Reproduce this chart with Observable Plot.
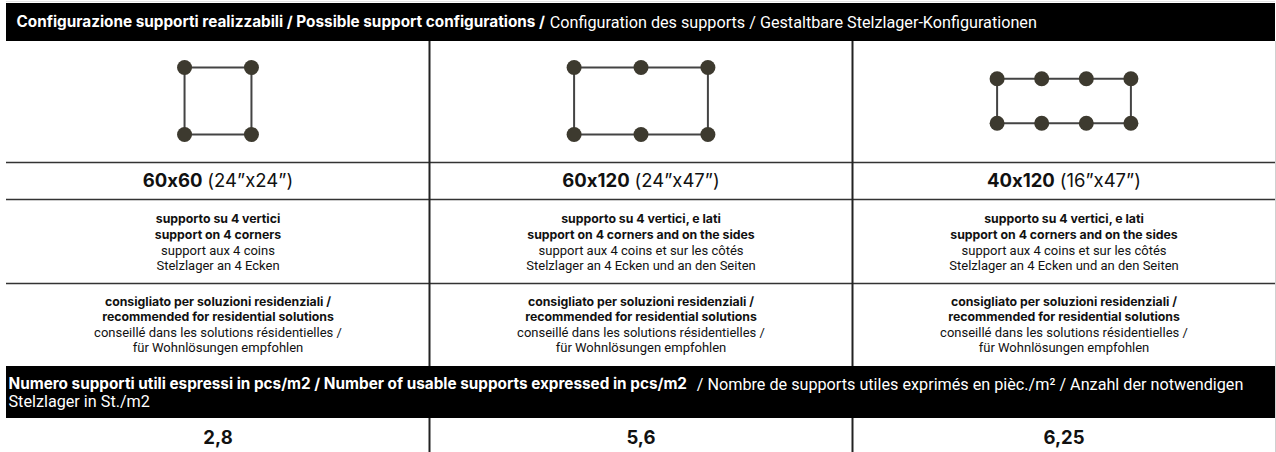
<!DOCTYPE html>
<html>
<head>
<meta charset="utf-8">
<script src="https://cdn.jsdelivr.net/npm/d3@7"></script>
<script src="https://cdn.jsdelivr.net/npm/@observablehq/plot@0.6"></script>
<style>
  html, body { margin: 0; padding: 0; background: #fff; }
  #chart svg { display: block; }
  svg text { font-feature-settings: "calt" 0; }
</style>
</head>
<body>
<div id="chart"></div>
<script>
// ---------- DATA ----------
const configs = ["60x60", "60x120", "40x120"];
const sizesInch = ["(24”x24”)", "(24”x47”)", "(16”x47”)"];
const panelWidthCm = [60, 120, 120];
const panelHeightCm = [60, 60, 40];
const supportsPerLongSide = [2, 3, 4];
const descIt = ["supporto su 4 vertici", "supporto su 4 vertici, e lati", "supporto su 4 vertici, e lati"];
const descEn = ["support on 4 corners", "support on 4 corners and on the sides", "support on 4 corners and on the sides"];
const descFr = ["support aux 4 coins", "support aux 4 coins et sur les côtés", "support aux 4 coins et sur les côtés"];
const descDe = ["Stelzlager an 4 Ecken", "Stelzlager an 4 Ecken und an den Seiten", "Stelzlager an 4 Ecken und an den Seiten"];
const recIt = ["consigliato per soluzioni residenziali /", "consigliato per soluzioni residenziali /", "consigliato per soluzioni residenziali /"];
const recEn = ["recommended for residential solutions", "recommended for residential solutions", "recommended for residential solutions"];
const recFr = ["conseillé dans les solutions résidentielles /", "conseillé dans les solutions résidentielles /", "conseillé dans les solutions résidentielles /"];
const recDe = ["für Wohnlösungen empfohlen", "für Wohnlösungen empfohlen", "für Wohnlösungen empfohlen"];
const supportsPerM2 = [2.8, 5.6, 6.25];
const headerBold = "Configurazione supporti realizzabili / Possible support configurations /";
const headerRegular = "Configuration des supports / Gestaltbare Stelzlager-Konfigurationen";
const footerBold = "Numero supporti utili espressi in pcs/m2 / Number of usable supports expressed in pcs/m2";
const footerRegular1 = "/ Nombre de supports utiles exprimés en pièc./m² / Anzahl der notwendigen";
const footerRegular2 = "Stelzlager in St./m2";

// ---------- LAYOUT (px) ----------
const W = 1276, H = 452;
const L = {
  header: [3, 41], headerY: 22,
  diagY: 100.5, pxPerCm: 1.115,
  rules: [162, 199, 283],
  sizeY: 181,
  descY: [219, 234.5, 250, 265.5],
  recY: [302, 317, 332, 347],
  band: [366, 418], bandY: [384, 401],
  valueY: 438,
  left: 6, right: 1275
};
const colPx = (L.right - L.left) / 3;
const cmPerCol = colPx / L.pxPerCm;

const BOLD = "Inter, sans-serif";
const REG = "Roboto, sans-serif";
const FS = {bandBold: 15.3, bandReg: 16.2, size: 18.5, textBold: 12.3, textReg: 13, value: 18.5};

// text measurement with a hidden svg (same rendering as the chart)
const NS = "http://www.w3.org/2000/svg";
const msvg = document.createElementNS(NS, "svg");
msvg.setAttribute("style", "position:absolute;left:-9999px;top:0;");
document.body.appendChild(msvg);
function tw(text, weight, size, family) {
  const t = document.createElementNS(NS, "text");
  t.setAttribute("font-family", family); t.setAttribute("font-weight", weight); t.setAttribute("font-size", size);
  t.setAttribute("xml:space", "preserve");
  t.textContent = text; msvg.appendChild(t);
  const w = t.getComputedTextLength(); msvg.removeChild(t); return w;
}

// support points & outlines built from the panel data
const supports = [];
const outlines = [];
configs.forEach((c, i) => {
  const w = panelWidthCm[i], h = panelHeightCm[i], n = supportsPerLongSide[i];
  for (const sy of [-h / 2, h / 2]) {
    for (let k = 0; k < n; k++) supports.push({col: i, cx: -w / 2 + (w * k) / (n - 1), cy: sy});
  }
  [[-w/2, -h/2], [w/2, -h/2], [w/2, h/2], [-w/2, h/2], [-w/2, -h/2]].forEach(([cx, cy]) => outlines.push({col: i, cx, cy}));
});
const px = d => d.col + 0.5 + d.cx / cmPerCol;
const py = d => L.diagY + d.cy * L.pxPerCm;

const cols = configs.map((c, i) => i);
const sizeGap = FS.size * 0.26;
const sizeParts = cols.map(i => {
  const b = tw(configs[i], 700, FS.size, BOLD), r = tw(sizesInch[i], 400, FS.size, BOLD);
  return {col: i, bw: b, total: b + sizeGap + r};
});

const descLines = [
  {arr: descIt, bold: true}, {arr: descEn, bold: true}, {arr: descFr, bold: false}, {arr: descDe, bold: false}
];
const recLines = [
  {arr: recIt, bold: true}, {arr: recEn, bold: true}, {arr: recFr, bold: false}, {arr: recDe, bold: false}
];
function linesMarks(lines, ys) {
  return lines.map((ln, j) => Plot.text(cols, {
    x: i => i + 0.5, y: () => ys[j], text: i => ln.arr[i],
    fontFamily: ln.bold ? BOLD : REG, fontWeight: ln.bold ? 700 : 400,
    fontSize: ln.bold ? FS.textBold : FS.textReg, fill: "#111"
  }));
}

const headerBoldW = tw(headerBold, 700, FS.bandBold, BOLD);
const footerBoldW = tw(footerBold, 700, FS.bandBold, BOLD);
const gapBand = FS.bandReg * 0.3;

const chart = Plot.plot({
  width: W, height: H, margin: 0,
  x: {domain: [0, 3], range: [L.left, L.right], axis: null},
  y: {domain: [0, H], range: [0, H], axis: null},
  style: {background: "#fff"},
  marks: [
    // bands
    Plot.ruleY([1], {x1: 0, x2: 3, stroke: "#e2e2e2", strokeWidth: 1}),
    Plot.rect([0], {x1: 0, x2: 3, y1: L.header[0], y2: L.header[1], fill: "#000"}),
    Plot.rect([0], {x1: 0, x2: 3, y1: L.band[0], y2: L.band[1], fill: "#000"}),
    // grid
    Plot.ruleY(L.rules, {x1: 0, x2: 3, stroke: "#333", strokeWidth: 1.5}),
    Plot.ruleX([1, 2], {y1: L.header[1], y2: L.band[0], stroke: "#222", strokeWidth: 2}),
    Plot.ruleX([1, 2], {y1: L.band[1], y2: H, stroke: "#222", strokeWidth: 2}),
    Plot.ruleX([3], {y1: L.header[1], y2: H, stroke: "#d0d0d0", strokeWidth: 1}),
    // diagrams
    Plot.line(outlines, {x: px, y: py, z: "col", stroke: "#444", strokeWidth: 2}),
    Plot.dot(supports, {x: px, y: py, r: 7.5, fill: "#3d3a2f", stroke: "none"}),
    // header text
    Plot.text([headerBold], {x: 0, y: () => L.headerY, text: d => d, textAnchor: "start", dx: 10, fill: "#fff",
      fontFamily: BOLD, fontWeight: 700, fontSize: FS.bandBold}),
    Plot.text([headerRegular], {x: 0, y: () => L.headerY, text: d => d, textAnchor: "start", dx: 10 + headerBoldW + gapBand, fill: "#fff",
      fontFamily: REG, fontWeight: 400, fontSize: FS.bandReg}),
    // size labels
    ...sizeParts.map(p => Plot.text([p], {x: d => d.col + 0.5, y: () => L.sizeY, text: d => configs[d.col], textAnchor: "start",
      dx: -p.total / 2, fontFamily: BOLD, fontWeight: 700, fontSize: FS.size, fill: "#111"})),
    ...sizeParts.map(p => Plot.text([p], {x: d => d.col + 0.5, y: () => L.sizeY, text: d => sizesInch[d.col], textAnchor: "start",
      dx: -p.total / 2 + p.bw + sizeGap, fontFamily: BOLD, fontWeight: 400, fontSize: FS.size, fill: "#111"})),
    // descriptions
    ...linesMarks(descLines, L.descY),
    ...linesMarks(recLines, L.recY),
    // footer band text
    Plot.text([footerBold], {x: 0, y: () => L.bandY[0], text: d => d, textAnchor: "start", dx: 2, fill: "#fff",
      fontFamily: BOLD, fontWeight: 700, fontSize: FS.bandBold}),
    Plot.text([footerRegular1], {x: 0, y: () => L.bandY[0], text: d => d, textAnchor: "start", dx: 2 + footerBoldW + gapBand * 2, fill: "#fff",
      fontFamily: REG, fontWeight: 400, fontSize: FS.bandReg}),
    Plot.text([footerRegular2], {x: 0, y: () => L.bandY[1], text: d => d, textAnchor: "start", dx: 2, fill: "#fff",
      fontFamily: REG, fontWeight: 400, fontSize: FS.bandReg}),
    // values
    Plot.text(cols, {x: i => i + 0.5, y: () => L.valueY, text: i => supportsPerM2[i].toLocaleString("it-IT"),
      fontFamily: BOLD, fontWeight: 700, fontSize: FS.value, fill: "#111"})
  ]
});
document.getElementById("chart").appendChild(chart);
msvg.remove();
</script>
</body>
</html>
